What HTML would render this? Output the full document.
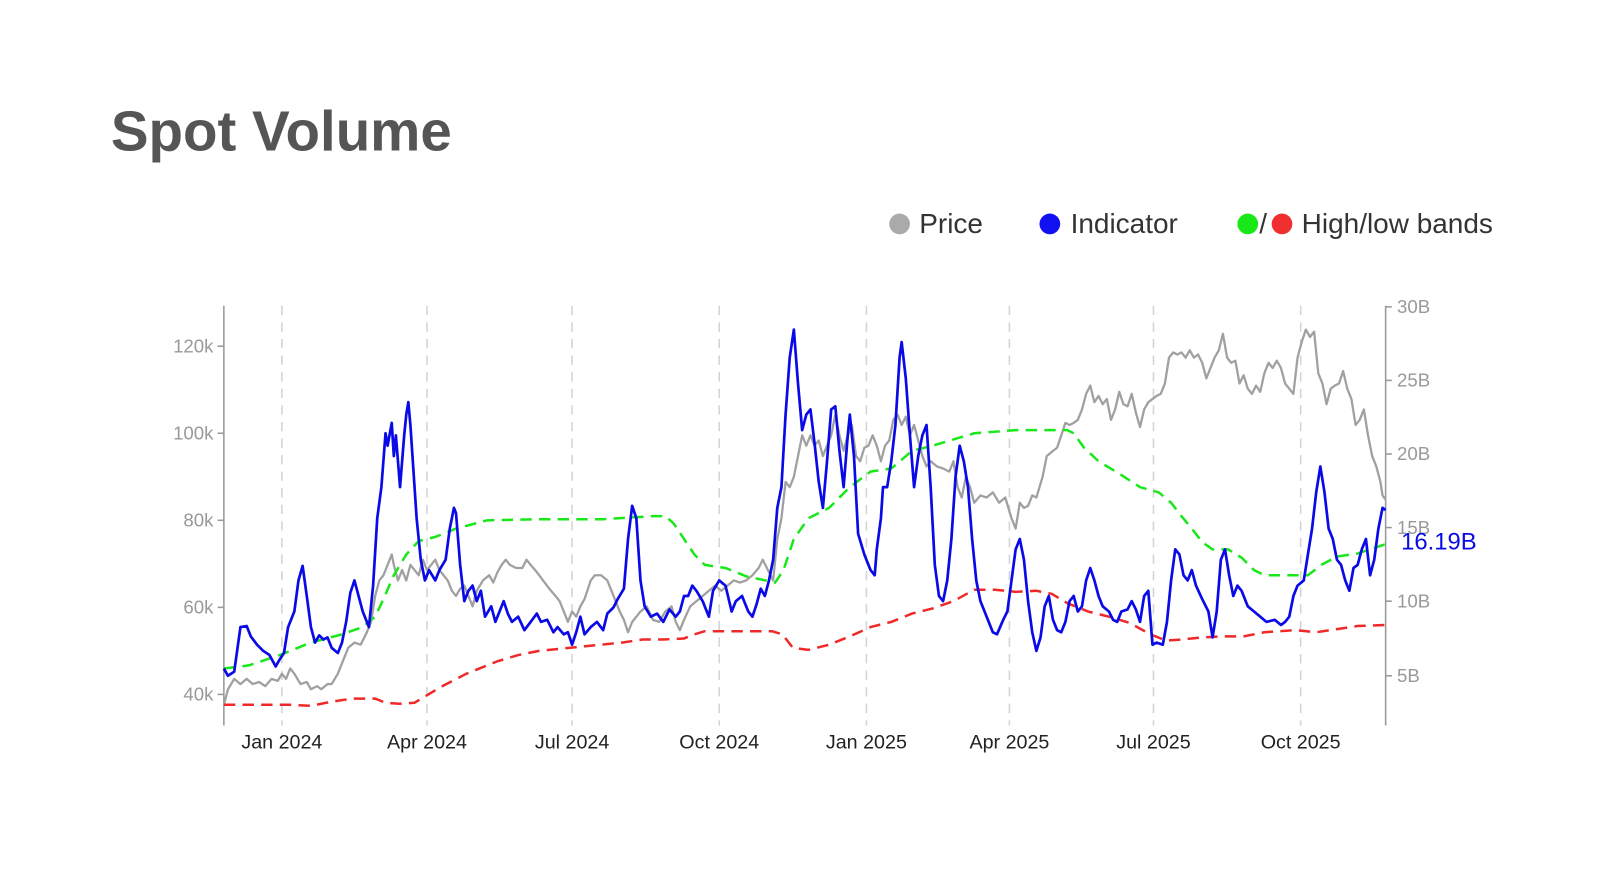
<!DOCTYPE html>
<html><head><meta charset="utf-8"><style>
html,body{margin:0;padding:0;background:#fff;}
svg{display:block;}
</style></head><body>
<svg width="1624" height="880" viewBox="0 0 1567 849" xmlns="http://www.w3.org/2000/svg" font-family="Liberation Sans, sans-serif">
<rect width="1567" height="849" fill="#fff"/>
<text x="107" y="145" font-size="54.5" font-weight="bold" fill="#555">Spot Volume</text>
<g font-size="27" fill="#333">
<circle cx="868" cy="216" r="10" fill="#aaa"/><text x="887" y="225">Price</text>
<circle cx="1013" cy="216" r="10" fill="#1010f0"/><text x="1033" y="225">Indicator</text>
<circle cx="1204" cy="216" r="10" fill="#18e818"/><text x="1215" y="225">/</text>
<circle cx="1237" cy="216" r="10" fill="#f03030"/><text x="1256" y="225">High/low bands</text>
</g>
<g stroke="#d4d4d4" stroke-width="1.5" stroke-dasharray="9,7">
<line x1="272" y1="295" x2="272" y2="700"/><line x1="412" y1="295" x2="412" y2="700"/>
<line x1="552" y1="295" x2="552" y2="700"/><line x1="694" y1="295" x2="694" y2="700"/>
<line x1="836" y1="295" x2="836" y2="700"/><line x1="974" y1="295" x2="974" y2="700"/>
<line x1="1113" y1="295" x2="1113" y2="700"/><line x1="1255" y1="295" x2="1255" y2="700"/>
</g>
<g stroke="#999" stroke-width="1.5">
<line x1="216" y1="295" x2="216" y2="700"/><line x1="1337" y1="295" x2="1337" y2="700"/>
<line x1="210" y1="334" x2="216" y2="334"/><line x1="210" y1="418" x2="216" y2="418"/><line x1="210" y1="502" x2="216" y2="502"/><line x1="210" y1="586" x2="216" y2="586"/><line x1="210" y1="670" x2="216" y2="670"/>
<line x1="1337" y1="296" x2="1343" y2="296"/><line x1="1337" y1="367" x2="1343" y2="367"/><line x1="1337" y1="438" x2="1343" y2="438"/><line x1="1337" y1="509" x2="1343" y2="509"/><line x1="1337" y1="580" x2="1343" y2="580"/><line x1="1337" y1="652" x2="1343" y2="652"/>
</g>
<g font-size="18" fill="#999" text-anchor="end">
<text x="206" y="340">120k</text><text x="206" y="424">100k</text><text x="206" y="508">80k</text><text x="206" y="592">60k</text><text x="206" y="676">40k</text>
</g>
<g font-size="18" fill="#999">
<text x="1348" y="302">30B</text><text x="1348" y="373">25B</text><text x="1348" y="444">20B</text><text x="1348" y="515">15B</text><text x="1348" y="586">10B</text><text x="1348" y="658">5B</text>
</g>
<g font-size="19" fill="#222" text-anchor="middle">
<text x="272" y="722">Jan 2024</text><text x="412" y="722">Apr 2024</text><text x="552" y="722">Jul 2024</text><text x="694" y="722">Oct 2024</text><text x="836" y="722">Jan 2025</text><text x="974" y="722">Apr 2025</text><text x="1113" y="722">Jul 2025</text><text x="1255" y="722">Oct 2025</text>
</g>
<polyline fill="none" stroke="#a0a0a0" stroke-width="2.2" stroke-linejoin="round" points="216,680 220,665 226,655 232,660 238,655 244,660 250,658 256,662 262,655 268,657 272,650 276,655 280,645 284,650 290,660 296,658 300,665 306,662 310,665 316,660 320,660 326,650 330,640 336,625 342,620 348,622 354,610 358,600 362,575 366,560 370,555 374,545 378,535 380,545 384,560 388,550 392,560 396,545 400,550 404,555 408,540 412,550 416,545 420,540 424,550 428,555 432,560 436,570 440,575 444,568 448,565 452,575 456,585 460,570 466,560 472,555 476,562 480,552 484,545 488,540 492,545 498,548 504,548 508,540 512,545 518,552 524,560 530,568 536,575 540,580 544,590 548,600 552,590 556,595 560,585 564,578 570,560 574,555 580,555 586,560 592,575 598,590 602,598 606,610 610,600 614,595 618,590 624,585 630,598 636,600 642,590 648,585 652,600 656,608 660,598 666,585 672,580 678,575 684,570 690,565 696,570 702,565 708,560 714,562 720,560 726,555 732,548 736,540 740,548 746,560 750,520 754,500 758,465 762,470 766,460 770,440 774,420 778,430 782,420 786,430 790,425 794,440 798,430 802,420 806,400 810,420 814,435 818,420 822,410 826,440 830,445 834,432 838,430 842,420 846,430 850,445 854,430 858,425 862,405 866,400 870,410 874,402 878,420 882,410 886,425 890,440 894,450 898,445 904,450 910,452 916,455 920,445 924,470 928,480 932,460 936,470 940,485 946,478 952,480 958,475 964,485 970,480 976,500 980,510 984,485 988,490 992,488 996,478 1000,480 1006,460 1010,440 1016,435 1020,432 1024,420 1028,408 1032,410 1036,408 1040,405 1044,395 1048,380 1052,372 1056,388 1060,382 1064,390 1068,385 1072,405 1076,395 1080,378 1084,390 1088,392 1092,380 1096,398 1100,412 1104,395 1108,388 1112,385 1116,382 1120,380 1124,370 1128,345 1132,340 1136,342 1140,340 1144,345 1148,338 1152,345 1156,342 1160,350 1164,365 1168,355 1172,345 1176,338 1180,322 1184,345 1188,350 1192,348 1196,370 1200,362 1204,375 1208,380 1212,372 1216,378 1220,360 1224,350 1228,355 1232,348 1236,355 1240,370 1244,375 1248,380 1252,345 1256,330 1260,318 1264,325 1268,320 1272,360 1276,370 1280,390 1284,375 1288,372 1292,370 1296,358 1300,375 1304,385 1308,410 1312,405 1316,395 1320,420 1324,440 1328,450 1332,465 1334,478 1337,482"/>
<polyline fill="none" stroke="#18e818" stroke-width="2.4" stroke-dasharray="11,7" points="216,645 240,642 270,632 300,620 330,612 350,605 362,595 370,578 380,555 392,535 404,522 420,518 440,510 470,502 520,501 580,501 630,498 642,498 650,505 660,520 670,535 680,545 700,548 720,556 748,562 756,550 766,520 780,500 800,490 820,470 840,455 860,452 880,435 900,430 920,424 940,418 980,415 1030,415 1036,418 1046,432 1060,445 1080,457 1100,470 1118,475 1130,485 1140,498 1150,510 1160,523 1170,530 1185,530 1198,538 1210,550 1220,555 1240,555 1262,555 1275,545 1290,537 1310,534 1337,525"/>
<polyline fill="none" stroke="#f02828" stroke-width="2.4" stroke-dasharray="11,7" points="216,680 250,680 280,680 300,681 320,677 340,674 362,674 372,678 385,679 400,678 410,672 425,663 450,650 480,638 500,632 520,628 560,624 580,622 600,620 620,617 640,617 660,616 670,612 680,609 720,609 745,609 755,612 765,625 780,627 800,622 820,614 840,605 860,600 880,592 900,587 920,580 940,569 960,569 980,571 1000,570 1015,573 1030,582 1050,590 1070,595 1090,601 1110,612 1125,618 1140,617 1160,615 1180,614 1200,614 1210,612 1220,610 1250,608 1270,610 1290,607 1310,604 1337,603"/>
<polyline fill="none" stroke="#0a0ae8" stroke-width="2.6" stroke-linejoin="round" points="216,645 220,652 226,648 232,605 238,604 242,614 248,622 254,628 260,632 266,643 270,636 274,630 278,605 284,590 288,560 292,546 296,575 300,605 304,620 308,613 312,617 316,615 320,625 326,630 330,620 334,600 338,572 342,560 346,575 350,590 356,605 360,565 364,500 368,470 372,418 374,430 378,408 380,440 382,420 386,470 390,420 392,400 394,388 396,410 398,440 402,500 406,540 410,560 414,550 420,560 424,550 430,540 434,510 438,490 440,495 444,545 448,580 452,570 456,565 460,580 464,570 468,595 474,585 478,600 482,590 486,580 490,592 494,600 500,595 506,608 512,600 518,592 522,600 528,598 534,610 538,605 544,612 548,610 552,622 556,610 560,595 564,612 570,605 576,600 582,608 586,592 592,586 596,578 602,568 606,520 610,488 614,500 618,560 622,585 628,595 634,592 640,600 646,588 652,595 656,590 660,575 664,575 668,565 672,570 678,580 684,595 688,570 694,560 700,565 706,590 710,580 716,575 722,590 726,595 730,583 734,568 738,575 742,560 746,540 750,490 754,470 758,400 762,345 766,318 770,370 774,415 778,400 782,395 786,428 790,465 794,490 798,445 802,395 806,392 810,435 814,470 818,420 820,400 824,440 828,515 834,535 840,550 844,555 846,530 850,500 852,470 856,470 860,445 864,410 868,345 870,330 874,365 878,420 882,470 886,440 890,420 894,410 898,470 902,545 906,575 910,580 914,560 918,520 922,460 926,430 930,445 934,470 938,520 942,560 946,580 950,590 954,600 958,610 962,612 968,598 972,590 976,560 980,530 984,520 988,540 992,580 996,610 1000,628 1004,615 1008,585 1012,575 1016,598 1020,608 1024,610 1028,600 1032,580 1036,575 1040,590 1044,585 1048,560 1052,548 1056,560 1060,575 1064,585 1070,590 1074,598 1078,600 1082,590 1088,588 1092,580 1096,588 1100,600 1104,575 1108,570 1112,622 1116,620 1122,622 1126,600 1130,560 1134,530 1138,535 1142,555 1146,560 1150,550 1154,565 1160,578 1166,590 1170,615 1174,590 1178,540 1182,530 1186,555 1190,575 1194,565 1198,570 1204,585 1210,590 1216,595 1222,600 1230,598 1236,603 1240,600 1244,595 1248,575 1252,565 1258,560 1262,535 1266,510 1270,475 1274,450 1278,475 1282,510 1286,520 1290,540 1294,545 1298,560 1302,570 1306,548 1310,545 1314,530 1318,520 1322,555 1326,540 1330,510 1334,490 1337,492"/>
<text x="1352" y="530" font-size="23" fill="#0a0ae8">16.19B</text>
</svg>
</body></html>
